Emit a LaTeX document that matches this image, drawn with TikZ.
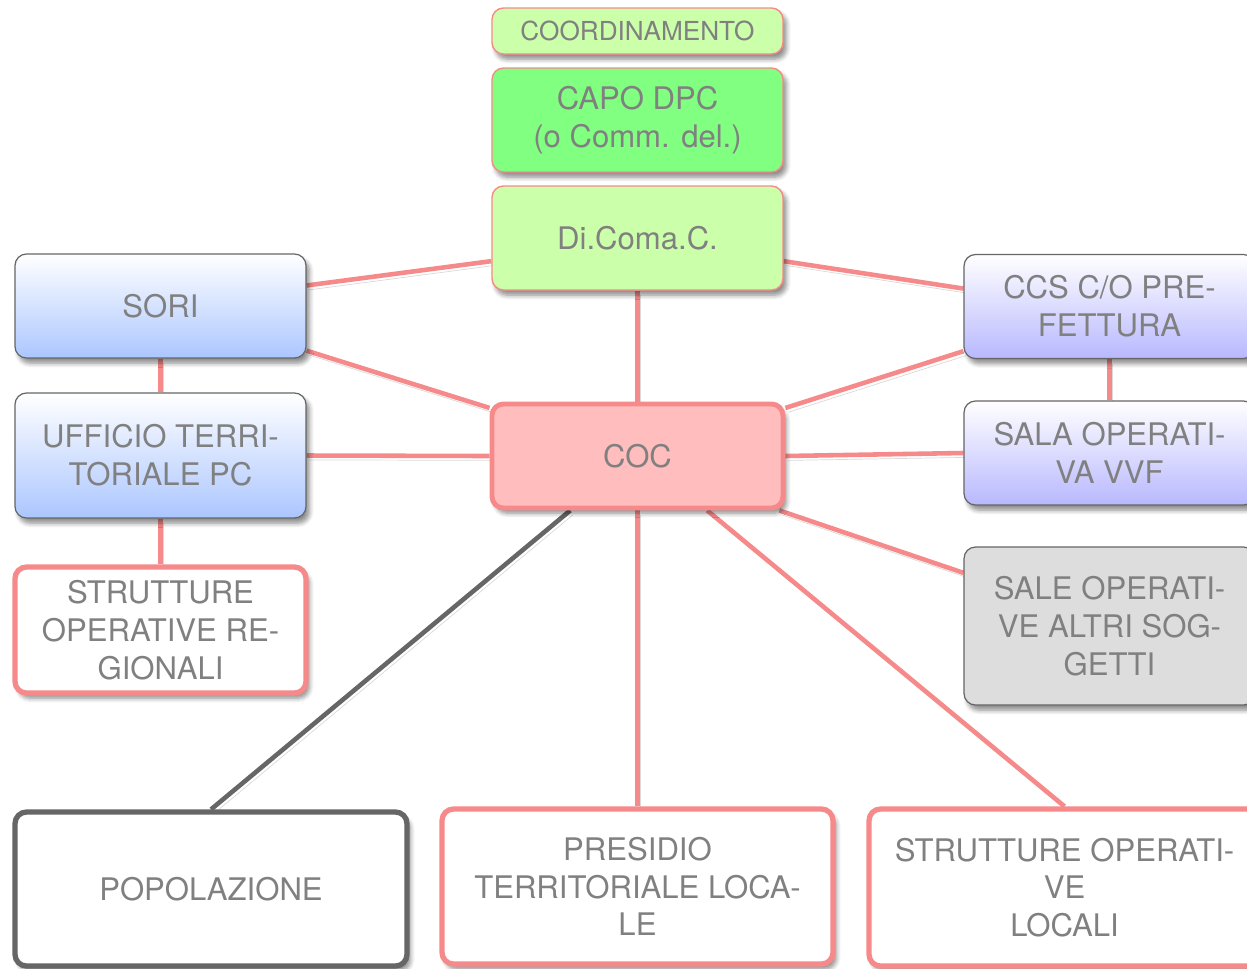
\documentclass[tikz,border=0pt]{standalone}
\usepackage{fontspec}
\setmainfont{TeX Gyre Heros}
\usetikzlibrary{shadows.blur,backgrounds}
\definecolor{clink}{HTML}{F68A8A}
\definecolor{ctext}{HTML}{808080}
\definecolor{ccoc}{HTML}{FFBDBD}
\definecolor{ccapo}{HTML}{80FF80}
\definecolor{clight}{HTML}{CCFFAA}
\definecolor{cblue}{HTML}{ABC6FF}
\definecolor{clilac}{HTML}{B8B8FF}
\definecolor{cgrey}{HTML}{DDDDDD}
\definecolor{cedge}{HTML}{666666}
\tikzset{
  every picture/.style={font=\fontsize{17.7}{21.5}\selectfont},
  box/.style={rectangle, rounded corners=6.5pt, align=center, inner sep=0pt,
    text=ctext, minimum width=5.82cm, minimum height=2.08cm,
    blur shadow={shadow xshift=2pt, shadow yshift=-3pt, shadow opacity=45,
      shadow blur radius=2.5pt, shadow blur steps=6}},
  greenbox/.style={box, draw=clink, line width=0.8pt},
  bluebox/.style={box, draw=cedge, line width=0.7pt, top color=white, bottom color=#1},
  redbox/.style={box, draw=clink, line width=3pt, fill=white},
  link/.style={draw=clink, line width=2.6pt,
    preaction={draw=black, opacity=0.15, transform canvas={xshift=1.5pt, yshift=-2.5pt}}},
}
\begin{document}
\begin{tikzpicture}[x=0.02cm, y=-0.02cm]
  \path[use as bounding box] (0,0) rectangle (1247,968);
  % top column
  \node[greenbox, fill=clight, minimum height=0.92cm, font=\fontsize{14.9}{17}\selectfont]
    (coord) at (637.5,31) {COORDINAMENTO};
  \node[greenbox, fill=ccapo] (capo) at (637.5,120) {CAPO DPC\\(o Comm. del.)};
  \node[greenbox, fill=clight] (dicomac) at (637.5,238) {Di.Coma.C.};
  \node[redbox, fill=ccoc, line width=2.8pt] (coc) at (637.5,456) {COC};
  % left column
  \node[bluebox=cblue] (sori) at (160.5,306) {SORI};
  \node[bluebox=cblue, minimum height=2.5cm] (uff) at (160.5,455.5) {UFFICIO TERRI-\\TORIALE PC};
  \node[redbox, minimum height=2.52cm] (streg) at (160.5,630) {STRUTTURE\\OPERATIVE RE-\\GIONALI};
  % right column
  \node[bluebox=clilac] (ccs) at (1109.5,306.5) {CCS C/O PRE-\\FETTURA};
  \node[bluebox=clilac] (vvf) at (1109.5,453) {SALA OPERATI-\\VA VVF};
  \node[box, draw=cedge, line width=0.7pt, fill=cgrey, minimum height=3.16cm]
    (altri) at (1109.5,626) {SALE OPERATI-\\VE ALTRI SOG-\\GETTI};
  % bottom row
  \node[redbox, draw=cedge, minimum width=7.84cm, minimum height=3.08cm]
    (popol) at (211,889) {POPOLAZIONE};
  \node[redbox, minimum width=7.82cm, minimum height=3.1cm]
    (presidio) at (637.5,886.5) {PRESIDIO\\TERRITORIALE LOCA-\\LE};
  \node[redbox, minimum width=7.82cm, minimum height=3.14cm]
    (stloc) at (1064.5,887.5) {STRUTTURE OPERATI-\\VE\\LOCALI};
  % connectors
  \begin{scope}[on background layer]
    \draw[link] (dicomac.189) -- (sori.8);
    \draw[link] (dicomac.351) -- (ccs.173);
    \draw[link] (dicomac.south) -- (coc.north);
    \draw[link] (sori.south) -- (uff.north);
    \draw[link] (uff.south) -- (streg.north);
    \draw[link] (sori.343) -- (coc.162);
    \draw[link] (uff.east) -- (coc.west);
    \draw[link] (ccs.197) -- (coc.18);
    \draw[link] (ccs.south) -- (vvf.north);
    \draw[link] (coc.east) -- (vvf.west);
    \draw[link] (coc.339) -- (altri.160);
    \draw[link] (coc.south) -- (presidio.north);
    \draw[link] (coc.322) -- (stloc.north);
    \draw[link, draw=cedge] (coc.219) -- (popol.north);
  \end{scope}
\end{tikzpicture}
\end{document}
